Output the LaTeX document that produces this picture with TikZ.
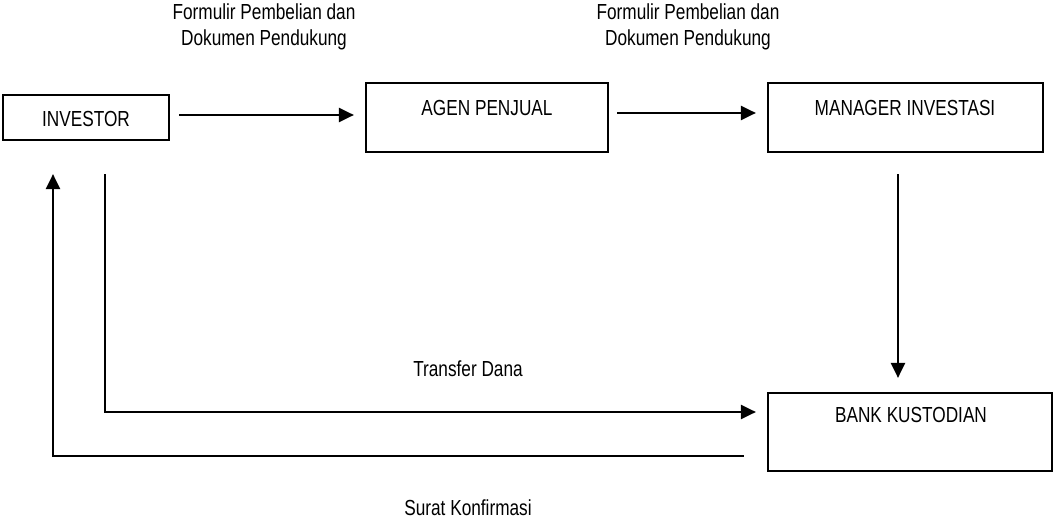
\documentclass[tikz,border=0pt]{standalone}
\usepackage{fontspec}
\setmainfont[FakeStretch=0.79]{Liberation Sans}
\usetikzlibrary{arrows.meta,calc}
\begin{document}
\begin{tikzpicture}[x=1pt,y=-1pt,
  box/.style={draw,line width=2.2pt,inner sep=0pt,rectangle},
  lbl/.style={inner sep=0pt,font=\fontsize{21.8}{26}\selectfont,align=center},
  arr/.style={line width=2.2pt,-{Triangle[length=15pt,width=14pt]}}]
\useasboundingbox (0,0) rectangle (1053,521);
% boxes
\node[box,minimum width=166pt,minimum height=45pt] (investor) at (86,117.5) {};
\node[box,minimum width=242pt,minimum height=69pt] (agen) at (487,117.5) {};
\node[box,minimum width=275pt,minimum height=69pt] (manager) at (905.5,117.5) {};
\node[box,minimum width=284pt,minimum height=78pt] (bank) at (910,432) {};
% box texts
\node[lbl] (tinv) at (86,119) {INVESTOR};
\node[lbl] (tagen) at (487,108) {AGEN PENJUAL};
\node[lbl] (tman) at (905,108) {MANAGER INVESTASI};
\node[lbl] (tbank) at (911,415) {BANK KUSTODIAN};
% connector labels
\node[lbl] (f1) at (264,27) {Formulir Pembelian dan\\Dokumen Pendukung};
\node[lbl] (f2) at (688,27) {Formulir Pembelian dan\\Dokumen Pendukung};
\node[lbl] (ttrans) at (468,369) {Transfer Dana};
\node[lbl] (tsurat) at (468,508) {Surat Konfirmasi};
% connectors
\draw[arr] ([xshift=9pt,yshift=2.5pt]investor.east) -- ([xshift=-11pt,yshift=2.5pt]investor.east -| agen.west);
\draw[arr] ([xshift=8pt,yshift=4.5pt]agen.east) -- ([xshift=-11pt,yshift=4.5pt]agen.east -| manager.west);
\draw[arr] ([xshift=-7.5pt,yshift=-21pt]manager.south) -- ([xshift=-7.5pt,yshift=14pt]manager.south |- bank.north);
\coordinate (ts) at ([xshift=19pt,yshift=-33pt]investor.south);
\coordinate (te) at ([xshift=-11pt,yshift=20pt]bank.west);
\draw[arr] (ts) -- (ts |- te) -- (te);
\coordinate (ss) at ([xshift=-23pt,yshift=-24pt]bank.west);
\coordinate (se) at ([xshift=-33pt,yshift=-33pt]investor.south);
\draw[arr] (ss) -- (ss -| se) -- (se);
\end{tikzpicture}
\end{document}
